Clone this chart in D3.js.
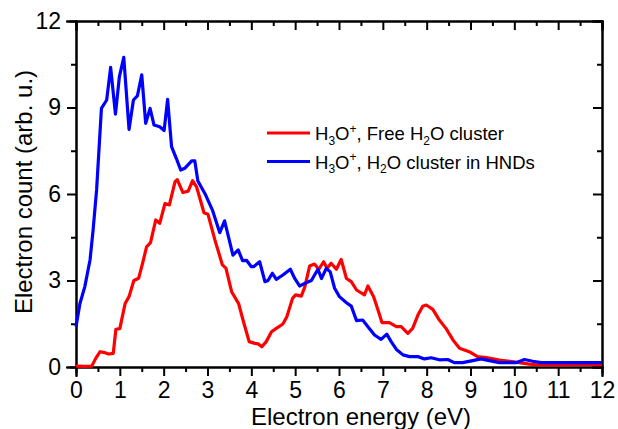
<!DOCTYPE html>
<html lang="en">
<head>
  <meta charset="UTF-8">
  <script src="https://d3js.org/d3.v7.min.js"></script>
  <style>
    body {
      margin: 0;
      background: #ffffff;
      font-family: "Liberation Sans", Arial, sans-serif;
    }
    .line {
      fill: none;
      stroke-width: 3.2px;
      stroke-linejoin: round;
    }
    .tick-label {
      font-size: 23px;
      fill: #000;
    }
  </style>
</head>
<body>
  <div id="chart"></div>
  <script>
    // free H2O cluster (red)
    const freeE = [0, 0.2, 0.36, 0.45, 0.55, 0.65, 0.74, 0.85, 0.91, 1.0, 1.12, 1.21, 1.32, 1.43, 1.52, 1.61, 1.7, 1.82, 1.91, 2.03, 2.13, 2.26, 2.31, 2.44, 2.56, 2.66, 2.75, 2.92, 3.01, 3.17, 3.34, 3.42, 3.55, 3.71, 3.81, 3.95, 4.08, 4.16, 4.24, 4.34, 4.46, 4.57, 4.72, 4.81, 4.94, 5.01, 5.14, 5.22, 5.33, 5.44, 5.54, 5.65, 5.73, 5.82, 5.94, 6.05, 6.17, 6.28, 6.4, 6.58, 6.66, 6.79, 6.89, 6.98, 7.15, 7.31, 7.42, 7.57, 7.68, 7.8, 7.91, 7.99, 8.14, 8.28, 8.44, 8.6, 8.75, 8.97, 9.16, 9.36, 9.66, 9.9, 10.11, 10.34, 10.57, 11.03, 11.48, 12];
    const freeCount = [0.03, 0.02, 0.03, 0.3, 0.53, 0.5, 0.45, 0.47, 1.31, 1.33, 2.2, 2.44, 3.0, 3.08, 3.6, 4.17, 4.31, 5.1, 4.98, 5.67, 5.62, 6.43, 6.5, 6.05, 6.1, 6.46, 6.25, 5.35, 5.3, 4.4, 3.54, 3.43, 2.61, 2.2, 1.63, 0.88, 0.82, 0.8, 0.7, 0.88, 1.22, 1.34, 1.49, 1.74, 2.38, 2.5, 2.46, 2.78, 3.5, 3.57, 3.39, 3.65, 3.42, 3.6, 3.39, 3.73, 3.07, 2.96, 2.67, 2.5, 2.81, 2.44, 1.98, 1.54, 1.54, 1.4, 1.4, 1.17, 1.34, 1.8, 2.11, 2.15, 2.0, 1.65, 1.34, 0.94, 0.65, 0.53, 0.36, 0.33, 0.24, 0.2, 0.15, 0.1, 0.07, 0.07, 0.08, 0.08];

    // H2O cluster in HNDs (blue)
    const hndE = [0, 0.09, 0.2, 0.32, 0.39, 0.47, 0.58, 0.7, 0.79, 0.9, 0.99, 1.09, 1.21, 1.31, 1.4, 1.5, 1.59, 1.69, 1.78, 1.91, 2.01, 2.09, 2.18, 2.29, 2.39, 2.48, 2.64, 2.71, 2.78, 2.94, 3.11, 3.28, 3.39, 3.58, 3.7, 3.8, 3.89, 4.0, 4.05, 4.19, 4.31, 4.38, 4.48, 4.57, 4.72, 4.89, 4.99, 5.1, 5.22, 5.37, 5.52, 5.6, 5.71, 5.8, 5.9, 6.01, 6.17, 6.28, 6.4, 6.54, 6.66, 6.81, 6.96, 7.09, 7.19, 7.31, 7.46, 7.61, 7.8, 7.95, 8.1, 8.29, 8.48, 8.63, 8.82, 9.05, 9.24, 9.43, 9.66, 10.04, 10.23, 10.42, 10.61, 11.03, 11.48, 12];
    const hndCount = [1.4, 2.2, 2.78, 3.71, 4.75, 6.14, 8.97, 9.26, 10.39, 8.77, 10.07, 10.74, 8.24, 9.26, 9.4, 10.13, 8.45, 8.97, 8.39, 8.33, 8.2, 9.28, 7.64, 7.23, 6.83, 6.89, 7.15, 7.15, 6.45, 6.02, 5.45, 4.66, 5.07, 3.88, 4.06, 3.69, 3.7, 3.48, 3.48, 3.65, 2.96, 3.0, 3.25, 3.04, 3.19, 3.39, 3.07, 2.81, 2.9, 3.0, 3.39, 3.07, 3.42, 3.3, 2.73, 2.44, 2.23, 2.11, 1.61, 1.63, 1.4, 1.11, 0.96, 1.14, 0.88, 0.61, 0.42, 0.36, 0.36, 0.28, 0.32, 0.25, 0.26, 0.15, 0.15, 0.22, 0.28, 0.22, 0.15, 0.15, 0.26, 0.2, 0.15, 0.15, 0.15, 0.15];

    const xTicks = d3.range(0, 13, 1);
    const yTicks = [0, 3, 6, 9, 12];

    const width = 618;
    const height = 429;
    const margin = { top: 21, right: 16, bottom: 62, left: 76 };

    const svg = d3.select("#chart")
      .append("svg")
      .attr("width", width)
      .attr("height", height)
      .style("display", "block");

    const x = d3.scaleLinear().domain([0, 12]).range([margin.left, width - margin.right]);
    const y = d3.scaleLinear().domain([0, 12]).range([height - margin.bottom, margin.top]);

    // axes with minor ticks
    function styleAxis(g) {
      g.select(".domain").attr("stroke-width", 2);
      g.selectAll(".tick line").attr("stroke-width", 2);
    }

    const xMinor = d3.range(0.5, 12, 1);
    const yMinor = d3.range(1.5, 12, 3);

    svg.append("g")
      .attr("transform", `translate(0,${y(0)})`)
      .call(d3.axisBottom(x).tickValues(xMinor).tickSize(5).tickFormat(""))
      .call(styleAxis);
    svg.append("g")
      .attr("transform", `translate(0,${y(0)})`)
      .call(d3.axisBottom(x).tickValues(xTicks).tickSize(9).tickPadding(6).tickFormat(d3.format("d")))
      .call(styleAxis)
      .call(g => g.selectAll(".tick text").attr("class", "tick-label").attr("font-family", null).attr("font-size", null));

    svg.append("g")
      .attr("transform", `translate(0,${y(12)})`)
      .call(d3.axisBottom(x).tickValues(xMinor).tickSize(5).tickFormat(""))
      .call(styleAxis);
    svg.append("g")
      .attr("transform", `translate(0,${y(12)})`)
      .call(d3.axisBottom(x).tickValues(xTicks).tickSize(9).tickFormat(""))
      .call(styleAxis);

    svg.append("g")
      .attr("transform", `translate(${x(0)},0)`)
      .call(d3.axisLeft(y).tickValues(yMinor).tickSize(5).tickFormat(""))
      .call(styleAxis);
    svg.append("g")
      .attr("transform", `translate(${x(0)},0)`)
      .call(d3.axisLeft(y).tickValues(yTicks).tickSize(9).tickPadding(6).tickFormat(d3.format("d")))
      .call(styleAxis)
      .call(g => g.selectAll(".tick text").attr("class", "tick-label").attr("font-family", null).attr("font-size", null));

    svg.append("g")
      .attr("transform", `translate(${x(12)},0)`)
      .call(d3.axisLeft(y).tickValues(yMinor).tickSize(5).tickFormat(""))
      .call(styleAxis);
    svg.append("g")
      .attr("transform", `translate(${x(12)},0)`)
      .call(d3.axisLeft(y).tickValues(yTicks).tickSize(9).tickFormat(""))
      .call(styleAxis);

    svg.selectAll(".domain").attr("stroke-linecap", "square");

    // lines
    const line = d3.line().x(d => x(d[0])).y(d => y(d[1]));
    const free = freeE.map((e, i) => [e, freeCount[i]]);
    const hnd = hndE.map((e, i) => [e, hndCount[i]]);

    svg.append("path").datum(free).attr("class", "line").attr("stroke", "#ff0000").attr("d", line);
    svg.append("path").datum(hnd).attr("class", "line").attr("stroke", "#0000ff").attr("d", line);

    // axis titles
    svg.append("text")
      .attr("x", 361)
      .attr("y", 425)
      .attr("text-anchor", "middle")
      .attr("font-size", 24)
      .text("Electron energy (eV)");

    svg.append("text")
      .attr("transform", `translate(32,192) rotate(-90)`)
      .attr("text-anchor", "middle")
      .attr("font-size", 24)
      .text("Electron count (arb. u.)");

    // legend
    const legend = [
      { color: "#ff0000", parts: [["H", 0], ["3", 1], ["O", 0], ["+", -1], [", Free H", 0], ["2", 1], ["O cluster", 0]] },
      { color: "#0000ff", parts: [["H", 0], ["3", 1], ["O", 0], ["+", -1], [", H", 0], ["2", 1], ["O cluster in HNDs", 0]] }
    ];
    const shift = { "0": 0, "1": 4.5, "-1": -7.5 };

    const lg = svg.append("g").attr("transform", "translate(267,133)");
    legend.forEach((d, i) => {
      const row = lg.append("g").attr("transform", `translate(0,${i * 28.5})`);
      row.append("line").attr("x1", 0).attr("x2", 43).attr("y1", 0).attr("y2", 0)
        .attr("stroke", d.color).attr("stroke-width", 3.2);
      const t = row.append("text").attr("x", 48).attr("y", 7).attr("font-size", 18.5);
      d.parts.forEach((p, j) => {
        const prev = j > 0 ? d.parts[j - 1][1] : 0;
        const ts = t.append("tspan").text(p[0]).attr("dy", shift[p[1]] - shift[prev]);
        if (p[1] !== 0) ts.attr("font-size", 12);
      });
    });
  </script>
</body>
</html>
